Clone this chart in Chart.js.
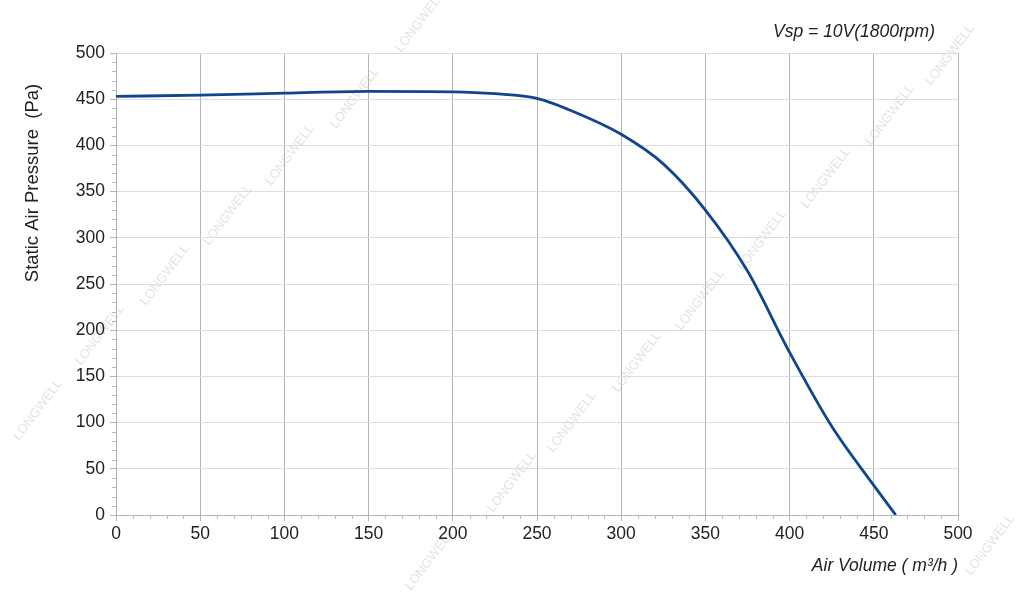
<!DOCTYPE html>
<html>
<head>
<meta charset="utf-8">
<script src="https://cdn.jsdelivr.net/npm/chart.js"></script>
<style>
  html, body { margin: 0; padding: 0; background: #fff; }
  #wrap { width: 1024px; height: 601px; }
</style>
</head>
<body>
<div id="wrap"><canvas id="pq"></canvas></div>
<script>
// air volume (m3/h) vs static pressure (Pa)
const airVolume = [0, 50, 100, 150, 200, 225, 250, 275, 300, 325, 350, 375, 400, 425, 450, 463];
const pressure  = [453, 454.5, 456.5, 458.5, 458, 456, 451, 434, 412, 380, 330, 264, 176, 96, 32, 0];
const xTicks = [0, 50, 100, 150, 200, 250, 300, 350, 400, 450, 500];
const yTicks = [0, 50, 100, 150, 200, 250, 300, 350, 400, 450, 500];
const speedNote = 'Vsp = 10V(1800rpm)';
const yTitle = 'Static Air Pressure  (Pa)';
const watermark = 'LONGWELL';
const marks = [[420, 22], [355, 98], [290, 155], [228, 215], [165, 275], [100, 335], [38, 410],
               [512, 482], [572, 422], [637, 362], [700, 300], [762, 240], [826, 178], [890, 115], [950, 55],
               [430, 560], [990, 545]];

const points = airVolume.map((v, i) => ({ x: v, y: pressure[i] }));
const FONT = "'Liberation Sans', Arial, sans-serif";

const extras = {
  id: 'extras',
  beforeDraw(chart) {
    const ctx = chart.ctx;
    ctx.save();
    ctx.font = '13px ' + FONT;
    ctx.fillStyle = 'rgba(160,160,160,0.3)';
    ctx.textAlign = 'center';
    ctx.textBaseline = 'middle';
    marks.forEach(([px, py]) => {
      ctx.save();
      ctx.translate(px, py);
      ctx.rotate(-Math.PI / 3.4);
      ctx.fillText(watermark, 0, 0);
      ctx.restore();
    });
    ctx.restore();
  },
  afterDraw(chart) {
    const ctx = chart.ctx;
    const xs = chart.scales.x, ys = chart.scales.y;
    const area = chart.chartArea;
    ctx.save();
    ctx.strokeStyle = '#b8b8b8';
    ctx.lineWidth = 1;
    ctx.beginPath();
    for (let v = 0; v <= 500; v += 10) {
      if (v % 50 === 0) continue;
      const px = Math.round(xs.getPixelForValue(v)) + 0.5;
      ctx.moveTo(px, area.bottom);
      ctx.lineTo(px, area.bottom + 4);
      const py = Math.round(ys.getPixelForValue(v)) + 0.5;
      ctx.moveTo(area.left, py);
      ctx.lineTo(area.left - 4, py);
    }
    ctx.stroke();
    ctx.fillStyle = '#222';
    ctx.textBaseline = 'middle';
    ctx.font = 'italic 17.5px ' + FONT;
    ctx.textAlign = 'right';
    ctx.fillText(speedNote, area.right - 23, 32);
    ctx.save();
    ctx.translate(33, 183);
    ctx.rotate(-Math.PI / 2);
    ctx.textAlign = 'center';
    ctx.font = '18.5px ' + FONT;
    ctx.fillText(yTitle, 0, 0);
    ctx.restore();
    ctx.restore();
  }
};

new Chart(document.getElementById('pq'), {
  type: 'line',
  data: {
    datasets: [{
      data: points,
      borderColor: '#12468c',
      borderWidth: 2.8,
      pointRadius: 0,
      fill: false,
      cubicInterpolationMode: 'monotone'
    }]
  },
  options: {
    responsive: true,
    maintainAspectRatio: false,
    animation: false,
    layout: { padding: { top: 53, right: 66, bottom: 0, left: 0 } },
    plugins: { legend: { display: false }, tooltip: { enabled: false } },
    scales: {
      x: {
        type: 'linear',
        min: 0, max: 500,
        afterBuildTicks: s => { s.ticks = xTicks.map(v => ({ value: v })); },
        afterFit: s => { s.height = 86; },
        grid: { color: '#b4b4b4', lineWidth: 1, tickLength: 6, tickColor: '#b4b4b4' },
        border: { color: '#b4b4b4' },
        ticks: { color: '#222', padding: 3, maxRotation: 0, font: { family: FONT, size: 17.5 } },
        title: {
          display: true, text: 'Air Volume ( m³/h )', align: 'end', color: '#222',
          font: { family: FONT, size: 17.5, style: 'italic' }, padding: { top: 0, bottom: 24 }
        }
      },
      y: {
        min: 0, max: 500,
        afterBuildTicks: s => { s.ticks = yTicks.map(v => ({ value: v })); },
        afterFit: s => { s.width = 116; },
        grid: { color: '#dcdcdc', lineWidth: 1, tickLength: 6, tickColor: '#b4b4b4' },
        border: { color: '#b4b4b4' },
        ticks: { color: '#222', padding: 5, font: { family: FONT, size: 17.5 } }
      }
    }
  },
  plugins: [extras]
});
</script>
</body>
</html>
